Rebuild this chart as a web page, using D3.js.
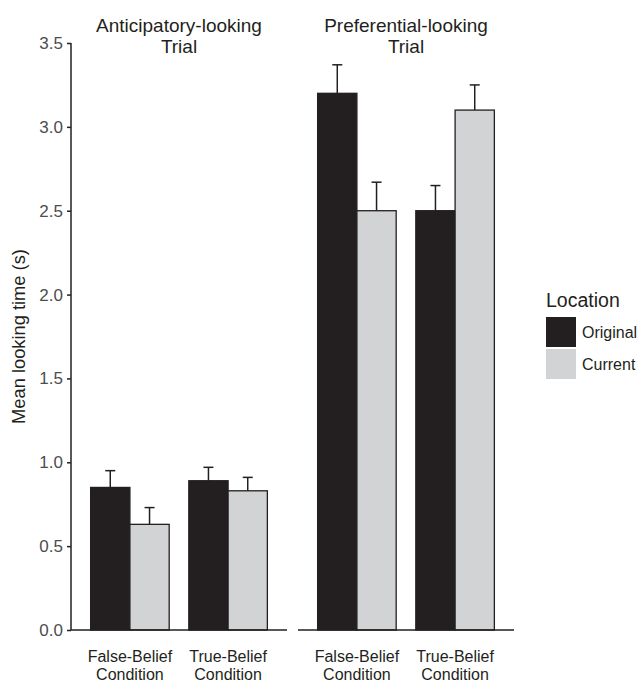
<!DOCTYPE html>
<html lang="en">
<head>
    <meta charset="UTF-8">
    <title>Mean looking time by trial</title>
    <script src="https://d3js.org/d3.v7.min.js"></script>
    <style>
        body { margin: 0; background: #fff; }
        text { font-family: "Liberation Sans", Arial, Helvetica, sans-serif; }
        .tick text { fill: #4d4d4d; font-size: 17px; }
    </style>
</head>
<body>

<svg width="639" height="683"></svg>

<script>
    // Data
    const trials = ["Anticipatory-looking", "Preferential-looking"];
    const conditions = ["False-Belief", "True-Belief"];
    const locations = ["Original", "Current"];
    const colors = ["#231f20", "#d1d3d4"];

    // means[condition][location]
    const anticipatoryMeans = [[0.85, 0.63], [0.89, 0.83]];
    const anticipatoryErr = [[0.10, 0.10], [0.08, 0.08]];
    const preferentialMeans = [[3.20, 2.50], [2.50, 3.10]];
    const preferentialErr = [[0.17, 0.17], [0.15, 0.15]];

    const yTicks = [0, 0.5, 1.0, 1.5, 2.0, 2.5, 3.0, 3.5];

    const means = [anticipatoryMeans, preferentialMeans];
    const errs = [anticipatoryErr, preferentialErr];

    // Layout
    const panelX = [71, 298];
    const panelW = 216;
    const plotTop = 43, plotBottom = 630;

    const svg = d3.select("svg");

    const y = d3.scaleLinear().domain([0, 3.5]).range([plotBottom, plotTop]);

    const x0 = d3.scaleBand()
        .domain(conditions)
        .range([0, panelW])
        .paddingInner(0.2)
        .paddingOuter(0.2);

    const x1 = d3.scaleBand()
        .domain(locations)
        .range([0, x0.bandwidth()]);

    const color = d3.scaleOrdinal().domain(locations).range(colors);

    // Y axis (left panel only)
    const yAxis = svg.append("g")
        .attr("transform", `translate(${panelX[0]},0)`)
        .call(d3.axisLeft(y).tickValues(yTicks).tickFormat(d3.format(".1f")).tickSize(4).tickPadding(4));
    yAxis.select(".domain").attr("stroke", "#231f20").attr("stroke-width", 1.5)
        .attr("d", `M0,${y(3.5)}V${y(0)}`);
    yAxis.selectAll(".tick line").attr("stroke", "#231f20").attr("stroke-width", 1.5);

    svg.append("text")
        .attr("transform", `translate(25,${(plotTop + plotBottom) / 2}) rotate(-90)`)
        .attr("text-anchor", "middle")
        .attr("font-size", "18.3px")
        .attr("fill", "#231f20")
        .text("Mean looking time (s)");

    trials.forEach((trial, t) => {
        const g = svg.append("g").attr("transform", `translate(${panelX[t]},0)`);

        // panel title
        const title = g.append("text")
            .attr("text-anchor", "middle")
            .attr("font-size", "19px")
            .attr("fill", "#231f20");
        title.append("tspan").attr("x", panelW / 2).attr("y", 32).text(trial);
        title.append("tspan").attr("x", panelW / 2).attr("y", 53).text("Trial");

        const rows = [];
        conditions.forEach((c, i) => locations.forEach((l, j) => {
            rows.push({ c, l, v: means[t][i][j], e: errs[t][i][j] });
        }));

        // error bars (upper only)
        const eb = g.selectAll(".err").data(rows).enter().append("g")
            .attr("transform", d => `translate(${x0(d.c) + x1(d.l) + x1.bandwidth() / 2},0)`);
        eb.append("line")
            .attr("y1", d => y(d.v)).attr("y2", d => y(d.v + d.e))
            .attr("stroke", "#231f20").attr("stroke-width", 1.5);
        eb.append("line")
            .attr("x1", -5).attr("x2", 5)
            .attr("y1", d => y(d.v + d.e)).attr("y2", d => y(d.v + d.e))
            .attr("stroke", "#231f20").attr("stroke-width", 1.5);

        // bars
        g.selectAll(".bar").data(rows).enter().append("rect")
            .attr("x", d => x0(d.c) + x1(d.l))
            .attr("width", x1.bandwidth())
            .attr("y", d => y(d.v))
            .attr("height", d => y(0) - y(d.v))
            .attr("fill", d => color(d.l))
            .attr("stroke", "#231f20")
            .attr("stroke-width", 1.3);

        // baseline
        g.append("line")
            .attr("x1", 0).attr("x2", panelW)
            .attr("y1", y(0)).attr("y2", y(0))
            .attr("stroke", "#231f20").attr("stroke-width", 1.5);

        // category labels
        const lab = g.selectAll(".lab").data(conditions).enter().append("text")
            .attr("text-anchor", "middle")
            .attr("font-size", "16px")
            .attr("fill", "#231f20");
        lab.append("tspan").attr("x", d => x0(d) + x0.bandwidth() / 2).attr("y", 662).text(d => d);
        lab.append("tspan").attr("x", d => x0(d) + x0.bandwidth() / 2).attr("y", 680).text("Condition");
    });

    // Legend
    const legend = svg.append("g").attr("transform", "translate(546,0)");
    legend.append("text")
        .attr("x", 0).attr("y", 307)
        .attr("font-size", "19.5px")
        .attr("fill", "#231f20")
        .text("Location");
    locations.forEach((l, i) => {
        legend.append("rect")
            .attr("x", 0).attr("y", 317 + i * 32)
            .attr("width", 30).attr("height", 30)
            .attr("fill", color(l));
        legend.append("text")
            .attr("x", 36).attr("y", 338 + i * 31.5)
            .attr("font-size", "16px")
            .attr("fill", "#231f20")
            .text(l);
    });
</script>

</body>
</html>
